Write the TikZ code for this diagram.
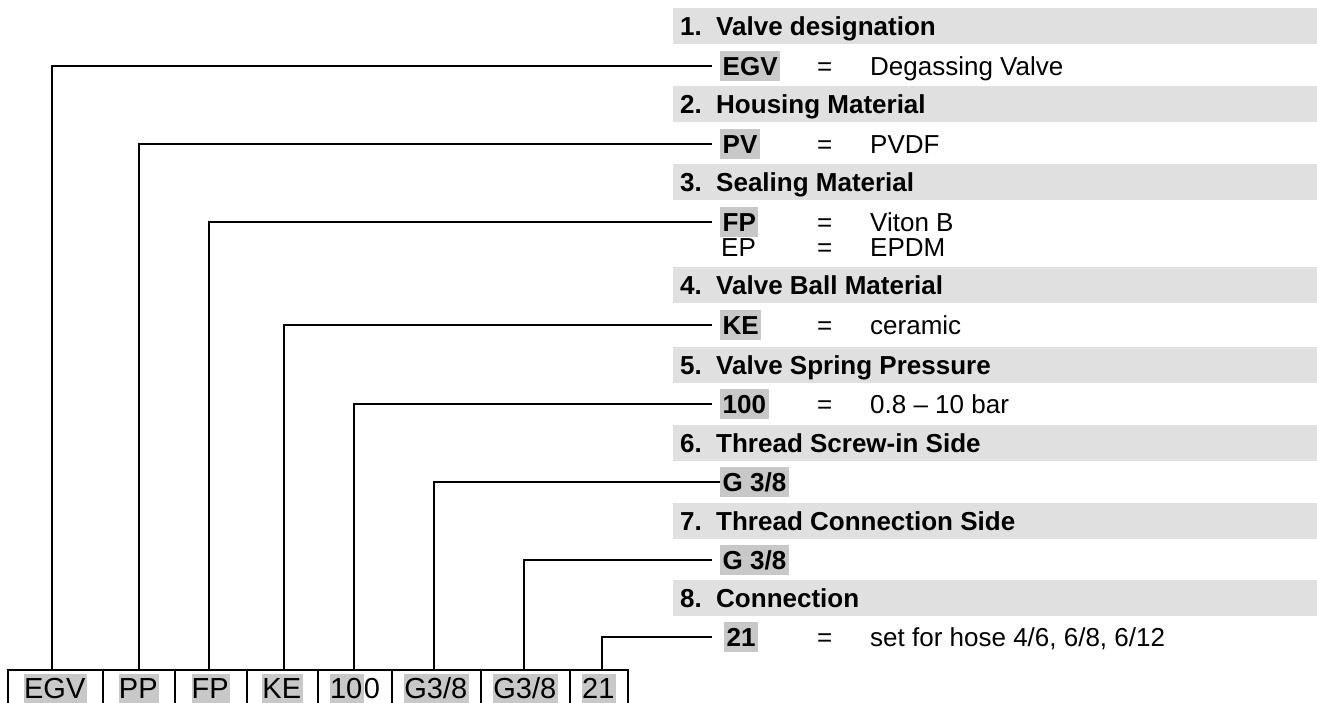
\documentclass[tikz,border=0pt]{standalone}
\usepackage{fontspec}
\setmainfont{Liberation Sans}
\definecolor{hdrgray}{HTML}{E0E0E0}
\definecolor{hlgray}{HTML}{C8C8C8}
\newcommand{\valsize}{\fontsize{26}{30}\selectfont}
\newcommand{\hlb}[1]{{\setlength{\fboxsep}{0pt}\colorbox{hlgray}{\rule[-8pt]{0pt}{32.3pt}#1\kern1.5pt}}}
\begin{document}
\begin{tikzpicture}[x=1pt,y=-1pt,
  conn/.style={line width=1.2pt},
  hdrbar/.style={fill=hdrgray, anchor=west, minimum width=644pt, minimum height=36pt, inner sep=0pt},
  hdrtext/.style={anchor=west, inner sep=0pt, text height=18.6pt, text depth=0pt, font=\valsize\bfseries},
  code/.style={anchor=west, fill=hlgray, inner xsep=2.5pt, inner ysep=5.5pt, text height=18.6pt, text depth=0pt, font=\valsize\bfseries},
  val/.style={anchor=west, inner sep=0pt, text height=18.6pt, text depth=0pt, font=\valsize},
  bbox/.style={draw, line width=2pt, anchor=north west, minimum height=35pt, inner sep=0pt, text height=21pt, text depth=0pt, font=\fontsize{29}{33}\selectfont}]
\useasboundingbox (0,0) rectangle (1317,702);

% header bars
\node[hdrbar] (h1) at (673,26) {};
\node[hdrbar] (h2) at (673,104) {};
\node[hdrbar] (h3) at (673,182) {};
\node[hdrbar] (h4) at (673,285) {};
\node[hdrbar] (h5) at (673,365) {};
\node[hdrbar] (h6) at (673,443) {};
\node[hdrbar] (h7) at (673,521) {};
\node[hdrbar] (h8) at (673,598) {};

\node[hdrtext] (n1) at (680,26) {1.};  \node[hdrtext] (t1) at (716,26) {Valve designation};
\node[hdrtext] (n2) at (680,104) {2.}; \node[hdrtext] (t2) at (716,104) {Housing Material};
\node[hdrtext] (n3) at (680,182) {3.}; \node[hdrtext] (t3) at (716,182) {Sealing Material};
\node[hdrtext] (n4) at (680,285) {4.}; \node[hdrtext] (t4) at (716,285) {Valve Ball Material};
\node[hdrtext] (n5) at (680,365) {5.}; \node[hdrtext] (t5) at (716,365) {Valve Spring Pressure};
\node[hdrtext] (n6) at (680,443) {6.}; \node[hdrtext] (t6) at (716,443) {Thread Screw-in Side};
\node[hdrtext] (n7) at (680,521) {7.}; \node[hdrtext] (t7) at (716,521) {Thread Connection Side};
\node[hdrtext] (n8) at (680,598) {8.}; \node[hdrtext] (t8) at (716,598) {Connection};

% value rows
\node[code] (c1) at (720,66) {EGV};  \node[val] (q1) at (817,66) {=};  \node[val] (d1) at (870,66) {Degassing Valve};
\node[code] (c2) at (720,144) {PV};  \node[val] (q2) at (817,144) {=}; \node[val] (d2) at (870,144) {PVDF};
\node[code] (c3) at (720,222) {FP};  \node[val] (q3) at (817,222) {=}; \node[val] (d3) at (870,222) {Viton B};
\node[val] (c3b) at (721,247) {EP};  \node[val] (q3b) at (817,247) {=}; \node[val] (d3b) at (870,247) {EPDM};
\node[code] (c4) at (720,325) {KE};  \node[val] (q4) at (817,325) {=}; \node[val] (d4) at (870,325) {ceramic};
\node[code] (c5) at (720,404) {100}; \node[val] (q5) at (817,404) {=}; \node[val] (d5) at (870,404) {0.8 – 10 bar};
\node[code] (c6) at (720,482) {G 3/8};
\node[code] (c7) at (720,560) {G 3/8};
\node[code] (c8) at (724,637) {21};  \node[val] (q8) at (817,637) {=}; \node[val] (d8) at (870,637) {set for hose 4/6, 6/8, 6/12};

% line ends
\coordinate (e1) at (712,66);
\coordinate (e2) at (712,144);
\coordinate (e3) at (712,222);
\coordinate (e4) at (712,325);
\coordinate (e5) at (712,404);
\coordinate (e7) at (712,560);
\coordinate (e8) at (712,637);

% bottom code boxes
\node[bbox, minimum width=95pt] (b1) at (7,669) {\hlb{EGV}};
\node[bbox, minimum width=72pt] (b2) at (102,669) {\hlb{PP}};
\node[bbox, minimum width=72pt] (b3) at (174,669) {\hlb{FP}};
\node[bbox, minimum width=71pt] (b4) at (246,669) {\hlb{KE}};
\node[bbox, minimum width=74pt] (b5) at (317,669) {\hlb{10}0};
\node[bbox, minimum width=89pt] (b6) at (391,669) {\hlb{G3/8}};
\node[bbox, minimum width=89pt] (b7) at (480,669) {\hlb{G3/8}};
\node[bbox, minimum width=58pt] (b8) at (569,669) {\hlb{21}};

% connectors
\draw[conn] ([xshift=-3.5pt]b1.north) |- (e1);
\draw[conn] (b2.north) |- (e2);
\draw[conn] ([xshift=-2pt]b3.north) |- (e3);
\draw[conn] ([xshift=1.5pt]b4.north) |- (e4);
\draw[conn] ([xshift=-1pt]b5.north) |- (e5);
\draw[conn] ([xshift=-2.5pt]b6.north) |- (c6.west);
\draw[conn] ([xshift=-1.5pt]b7.north) |- (e7);
\draw[conn] ([xshift=3pt]b8.north) |- (e8);
\end{tikzpicture}
\end{document}
